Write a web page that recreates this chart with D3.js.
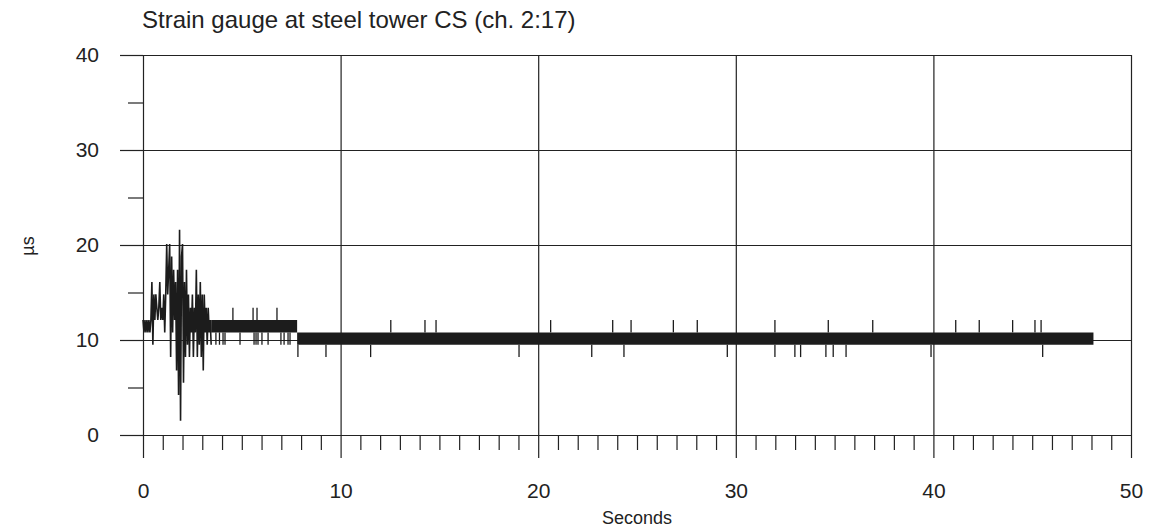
<!DOCTYPE html>
<html><head><meta charset="utf-8">
<script src="https://cdn.jsdelivr.net/npm/d3@7"></script>
<style>
html,body{margin:0;padding:0;background:#fff}
svg{display:block}
text{font-family:"Liberation Sans",Arial,sans-serif;fill:#222}
</style>
</head><body>
<svg id="chart" width="1155" height="532"></svg>
<script>
// ---------- data ----------
const titleText = "Strain gauge at steel tower CS (ch. 2:17)";
const xAxisTitle = "Seconds";
const yAxisTitle = "µs";
const xTickValues = [0, 10, 20, 30, 40, 50];
const yTickValues = [0, 10, 20, 30, 40];
const xMinorTicks = d3.range(1, 50).filter(v => v % 10 !== 0);
const yMinorTicks = [5, 15, 25, 35];

// early, strongly oscillating part: one sample every 0.05 s from t = 0
const sampleStep = 0.05;
const earlyValues = [
  12.1, 10.8, 12.1, 10.8, 12.1, 10.8, 12.1, 10.8, 12.1, 16.1,
  9.5, 14.8, 12.1, 14.8, 13.4, 12.1, 13.4, 16.1, 12.1, 13.4,
  12.1, 14.8, 10.8, 14.8, 20.1, 14.8, 17.4, 20.1, 8.2, 18.8,
  10.8, 17.4, 12.1, 16.1, 6.8, 17.4, 4.2, 21.6, 1.5, 18.8,
  20.1, 5.5, 16.1, 8.2, 17.4, 9.5, 14.8, 8.2, 13.4, 10.8,
  14.8, 8.2, 13.4, 10.8, 17.4, 8.2, 14.8, 9.5, 16.1, 8.2,
  14.8, 6.8, 14.8, 10.8, 13.4, 9.5, 13.4, 10.8, 12.1, 9.5
];

// dense two-level oscillation shown as a solid band
const bandStarts = [3.45, 7.8];
const bandEnds   = [7.8, 48.1];
const bandLows   = [10.8, 9.5];
const bandHighs  = [12.1, 10.8];

// isolated excursions leaving the band (time in s, value in µs)
const spikeTimes = [
  3.69, 3.87, 4.05, 4.15, 4.91, 5.62, 5.72, 5.82, 6.02, 6.33, 6.98, 7.14, 7.34, 7.44,
  4.55, 5.57, 5.77, 6.78,
  7.84, 9.26, 11.52, 19.03, 22.71, 24.34, 29.57, 31.98, 32.99, 33.28, 34.56, 34.93, 35.58, 39.88, 45.53,
  12.54, 14.27, 14.83, 20.63, 23.77, 24.70, 26.84, 28.05, 31.98, 34.68, 36.93, 41.13, 42.32, 44.01, 45.14, 45.45
];
const spikeValues = [
  9.5, 9.5, 9.5, 9.5, 9.5, 9.5, 9.5, 9.5, 9.5, 9.5, 9.5, 9.5, 9.5, 9.5,
  13.4, 13.4, 13.4, 13.4,
  8.2, 8.2, 8.2, 8.2, 8.2, 8.2, 8.2, 8.2, 8.2, 8.2, 8.2, 8.2, 8.2, 8.2, 8.2,
  12.1, 12.1, 12.1, 12.1, 12.1, 12.1, 12.1, 12.1, 12.1, 12.1, 12.1, 12.1, 12.1, 12.1, 12.1, 12.1
];

// ---------- drawing ----------
const ink = "#222";
const svg = d3.select("#chart");
const x = d3.scaleLinear().domain([0, 50]).range([143, 1131]);
const y = d3.scaleLinear().domain([0, 40]).range([435, 55]);

// grid lines
svg.append("g").attr("transform", `translate(${x(0)},0)`)
  .call(d3.axisRight(y).tickValues(yTickValues).tickSize(x(50) - x(0)).tickFormat(""))
  .call(g => g.select(".domain").remove())
  .selectAll("line").attr("stroke", ink).attr("stroke-width", 1.2);
svg.append("g").attr("transform", `translate(0,${y(0)})`)
  .call(d3.axisTop(x).tickValues(xTickValues).tickSize(y(0) - y(40)).tickFormat(""))
  .call(g => g.select(".domain").remove())
  .selectAll("line").attr("stroke", ink).attr("stroke-width", 1.2);

// y axis: major ticks + labels, minor ticks
const yAx = svg.append("g").attr("transform", `translate(${x(0)},0)`)
  .call(d3.axisLeft(y).tickValues(yTickValues).tickSize(23).tickPadding(21).tickFormat(d3.format("d")));
yAx.select(".domain").remove();
yAx.selectAll("line").attr("stroke", ink).attr("stroke-width", 1.2);
yAx.selectAll("text").attr("font-size", 21).style("fill", ink);
svg.append("g").attr("transform", `translate(${x(0)},0)`)
  .call(d3.axisLeft(y).tickValues(yMinorTicks).tickSize(15).tickFormat(""))
  .call(g => g.select(".domain").remove())
  .selectAll("line").attr("stroke", ink).attr("stroke-width", 1.2);

// x axis
const xAx = svg.append("g").attr("transform", `translate(0,${y(0)})`)
  .call(d3.axisBottom(x).tickValues(xTickValues).tickSize(23).tickPadding(25).tickFormat(d3.format("d")));
xAx.select(".domain").remove();
xAx.selectAll("line").attr("stroke", ink).attr("stroke-width", 1.2);
xAx.selectAll("text").attr("font-size", 21).style("fill", ink);
svg.append("g").attr("transform", `translate(0,${y(0)})`)
  .call(d3.axisBottom(x).tickValues(xMinorTicks).tickSize(15).tickFormat(""))
  .call(g => g.select(".domain").remove())
  .selectAll("line").attr("stroke", ink).attr("stroke-width", 1.2);

// bands
const bands = bandStarts.map((s, i) => ({ s, e: bandEnds[i], lo: bandLows[i], hi: bandHighs[i] }));
const area = d3.area().x(d => x(d.t)).y0(d => y(d.lo)).y1(d => y(d.hi));
svg.append("g").selectAll("path").data(bands).join("path")
  .attr("d", b => area([{ t: b.s, lo: b.lo, hi: b.hi }, { t: b.e, lo: b.lo, hi: b.hi }]))
  .attr("fill", "#1c1c1c");

// early series
const early = earlyValues.map((v, i) => ({ t: i * sampleStep, v }));
svg.append("path")
  .attr("d", d3.line().x(d => x(d.t)).y(d => y(d.v))(early))
  .attr("fill", "none").attr("stroke", "#1c1c1c").attr("stroke-width", 1.6);

// spikes
const spikes = spikeTimes.map((t, i) => {
  const v = spikeValues[i];
  const b = bands.find(b => t >= b.s && t <= b.e) || bands[bands.length - 1];
  return { t, v, base: v > b.hi ? b.hi : b.lo };
});
svg.append("g").selectAll("line").data(spikes).join("line")
  .attr("x1", d => x(d.t)).attr("x2", d => x(d.t))
  .attr("y1", d => y(d.base)).attr("y2", d => y(d.v))
  .attr("stroke", "#1c1c1c").attr("stroke-width", 1.3);

// titles
svg.append("text").attr("x", 142).attr("y", 28).attr("font-size", 24).text(titleText);
svg.append("text").attr("x", x(25)).attr("y", 524).attr("text-anchor", "middle")
  .attr("font-size", 18).text(xAxisTitle);
svg.append("text").attr("transform", `translate(34,246) rotate(-90)`)
  .attr("text-anchor", "middle").attr("font-size", 18).text(yAxisTitle);
</script>
</body></html>
